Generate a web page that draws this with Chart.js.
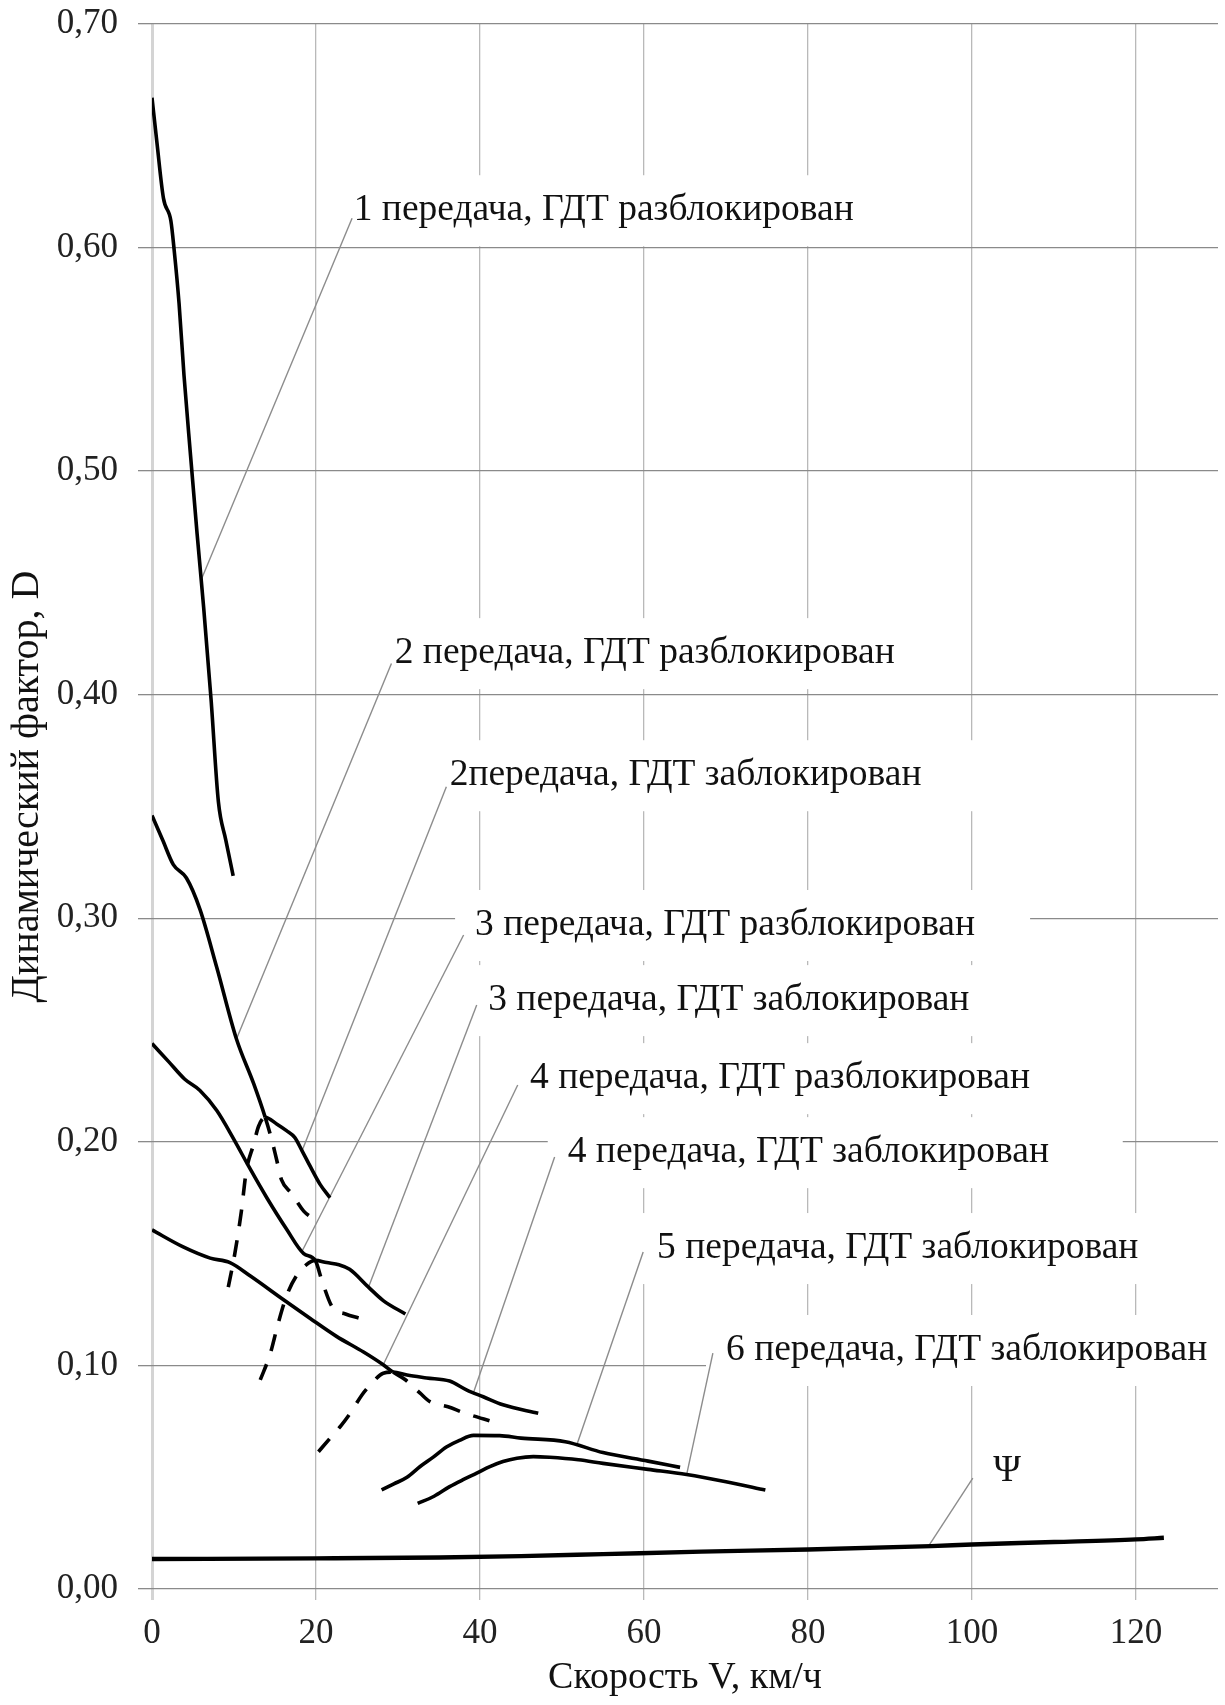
<!DOCTYPE html>
<html lang="ru">
<head>
<meta charset="utf-8">
<title>Динамическая характеристика</title>
<script src="https://cdn.jsdelivr.net/npm/chart.js@4.4.1/dist/chart.umd.min.js"></script>
<style>
  html, body { margin: 0; padding: 0; background: #fff; }
  canvas { display: block; }
</style>
</head>
<body>
<canvas id="chart" width="1225" height="1705"></canvas>
<script>
// скорость V, км/ч и динамический фактор D для каждой кривой
const v1 = [0, 0.6, 1.4, 2.3, 2.7, 3.3, 3.9, 4.7, 5.5, 6.3, 7.2, 8.1, 9.0, 9.9];
const d1 = [0.667, 0.647, 0.622, 0.612, 0.599, 0.575, 0.543, 0.507, 0.472, 0.439, 0.398, 0.352, 0.335, 0.319];

const v2u = [0, 1.3, 2.6, 4.2, 5.85, 7.9, 10.3, 12.4, 13.8, 14.6, 15.2, 15.8, 17.0, 18.5, 19.5];
const d2u = [0.346, 0.335, 0.324, 0.318, 0.304, 0.278, 0.246, 0.226, 0.211, 0.201, 0.192, 0.183, 0.177, 0.169, 0.166];
const v2l = [9.3, 10.1, 10.9, 11.5, 12.4, 13.0, 13.8, 15.2, 16.4, 17.4, 18.3, 19.3, 20.5, 21.7];
const d2l = [0.135, 0.150, 0.169, 0.187, 0.199, 0.207, 0.211, 0.208, 0.205, 0.202, 0.196, 0.189, 0.181, 0.175];

const v3u = [0, 2, 4, 5.85, 7.9, 10, 11.8, 14, 16.4, 18.5, 19.9, 20.8, 22.0, 23.6, 25.4];
const d3u = [0.244, 0.236, 0.228, 0.223, 0.214, 0.201, 0.189, 0.175, 0.161, 0.150, 0.147, 0.137, 0.126, 0.123, 0.121];
const v3l = [13.2, 14.4, 15.4, 16.4, 17.6, 18.8, 19.9, 21.3, 22.8, 24.1, 26.4, 28.2, 30.9];
const d3l = [0.0935, 0.105, 0.119, 0.131, 0.140, 0.145, 0.147, 0.146, 0.145, 0.143, 0.135, 0.129, 0.123];

const v4u = [0, 3.8, 7.1, 9.5, 12, 16, 19.3, 22.5, 25.8, 28.2, 29.4, 30.9, 32.7, 33.9, 36.1, 38.2, 41.6];
const d4u = [0.1606, 0.153, 0.148, 0.146, 0.140, 0.1295, 0.121, 0.113, 0.106, 0.1003, 0.097, 0.0936, 0.0876, 0.0838, 0.0815, 0.0786, 0.0748];
const v4l = [20.3, 21.7, 23.1, 24.3, 25.6, 26.8, 28.2, 29.4, 31.1, 33.5, 36.3, 38.4, 40.4, 42.8, 47.1];
const d4l = [0.0614, 0.0674, 0.0733, 0.0793, 0.0868, 0.092, 0.0965, 0.097, 0.0957, 0.0944, 0.093, 0.089, 0.086, 0.0824, 0.0786];

const v5 = [28, 29.5, 31.1, 32.7, 34.3, 35.9, 37.5, 39.2, 42.4, 45, 50.4, 55, 60.5, 64.4];
const d5 = [0.0443, 0.047, 0.050, 0.0548, 0.059, 0.0635, 0.0665, 0.0687, 0.0686, 0.0675, 0.0659, 0.061, 0.0572, 0.0544];

const v6 = [32.4, 34.4, 36.3, 38, 39.6, 41.2, 42.8, 44.5, 46.5, 48.5, 52, 55, 60.5, 65.2, 70, 74.8];
const d6 = [0.0383, 0.0415, 0.0458, 0.049, 0.0518, 0.0547, 0.057, 0.0585, 0.0592, 0.0589, 0.0578, 0.0562, 0.0535, 0.0512, 0.048, 0.0443];

const vPsi = [0, 20, 35, 45, 55, 67, 80, 95, 100, 110, 120, 123.4];
const dPsi = [0.0134, 0.0137, 0.0141, 0.0147, 0.0156, 0.0167, 0.0177, 0.0192, 0.0199, 0.021, 0.0222, 0.0229];

// скорость блокировки ГДТ на 2, 3 и 4 передачах
const lockSpeed = [13.8, 19.9, 29.4];

// подписи кривых: текст, точка привязки текста, начало выноски, точка на кривой
const labelTexts = [
  '1 передача, ГДТ разблокирован',
  '2 передача, ГДТ разблокирован',
  '2передача, ГДТ заблокирован',
  '3 передача, ГДТ разблокирован',
  '3 передача, ГДТ заблокирован',
  '4 передача, ГДТ разблокирован',
  '4 передача, ГДТ заблокирован',
  '5 передача, ГДТ заблокирован',
  '6 передача, ГДТ заблокирован',
  'Ψ'
];
const labelV = [24.6, 29.6, 36.3, 39.4, 41.0, 46.1, 50.7, 61.6, 70.0, 102.6];
const labelD = [0.6167, 0.4186, 0.364, 0.297, 0.2634, 0.2285, 0.1954, 0.1525, 0.1069, 0.0528];
const leaderV = [24.4, 29.2, 35.9, 38.0, 39.6, 44.6, 49.1, 59.9, 68.4, 100.1];
const leaderD = [0.6131, 0.414, 0.3588, 0.2925, 0.2612, 0.2254, 0.1932, 0.1507, 0.1055, 0.0496];
const leaderCurve = ['g1', 'g2u', 'g2l', 'g3u', 'g3l', 'g4u', 'g4l', 'g5', 'g6', 'psi'];
const leaderEndV = [6.0, 10.3, 18.3, 18.3, 26.4, 28.2, 39.2, 51.8, 65.2, 94.7];

const yTicks = [0, 0.1, 0.2, 0.3, 0.4, 0.5, 0.6, 0.7];

const DASH = [17, 14];
const serif = "'Liberation Serif', 'Times New Roman', serif";

function pts(xs, ys) {
  return xs.map((x, i) => ({ x: x, y: ys[i] }));
}

function atSpeed(xs, ys, v) {
  for (let i = 1; i < xs.length; i++) {
    if (v <= xs[i]) {
      const t = (v - xs[i - 1]) / (xs[i] - xs[i - 1]);
      return ys[i - 1] + t * (ys[i] - ys[i - 1]);
    }
  }
  return ys[ys.length - 1];
}

// штрих до (или после) момента блокировки
function dashSplit(split, before) {
  return ctx => {
    const mid = (ctx.p0.parsed.x + ctx.p1.parsed.x) / 2;
    return (before ? mid < split : mid > split) ? DASH : undefined;
  };
}

function curve(id, xs, ys, extra) {
  return Object.assign({
    id: id,
    data: pts(xs, ys),
    borderColor: '#000',
    borderWidth: 3.6,
    pointRadius: 0,
    cubicInterpolationMode: 'monotone',
    fill: false
  }, extra || {});
}

const curves = {
  g1: [v1, d1], g2u: [v2u, d2u], g2l: [v2l, d2l], g3u: [v3u, d3u], g3l: [v3l, d3l],
  g4u: [v4u, d4u], g4l: [v4l, d4l], g5: [v5, d5], g6: [v6, d6], psi: [vPsi, dPsi]
};

const datasets = [
  curve('g1', v1, d1),
  curve('g2u', v2u, d2u, { segment: { borderDash: dashSplit(lockSpeed[0], false) } }),
  curve('g2l', v2l, d2l, { segment: { borderDash: dashSplit(lockSpeed[0], true) } }),
  curve('g3u', v3u, d3u, { segment: { borderDash: dashSplit(lockSpeed[1], false) } }),
  curve('g3l', v3l, d3l, { segment: { borderDash: dashSplit(lockSpeed[1], true) } }),
  curve('g4u', v4u, d4u, { segment: { borderDash: dashSplit(lockSpeed[2], false) } }),
  curve('g4l', v4l, d4l, { segment: { borderDash: dashSplit(lockSpeed[2], true) } }),
  curve('g5', v5, d5),
  curve('g6', v6, d6),
  curve('psi', vPsi, dPsi, { borderWidth: 4.4 })
];

const callouts = {
  id: 'callouts',
  beforeDatasetsDraw(chart) {
    const { ctx, scales: { x, y } } = chart;
    ctx.save();

    // белая подложка под подписями
    ctx.fillStyle = '#fff';
    labelTexts.forEach((text, i) => {
      if (text.length < 3) return;
      const tx = x.getPixelForValue(labelV[i]);
      const ty = y.getPixelForValue(labelD[i]);
      ctx.fillRect(tx - 20, ty - 35, 575, 71);
    });

    // выноски
    ctx.strokeStyle = '#8c8c8c';
    ctx.lineWidth = 1.4;
    leaderCurve.forEach((key, i) => {
      const c = curves[key];
      const ev = leaderEndV[i];
      ctx.beginPath();
      ctx.moveTo(x.getPixelForValue(leaderV[i]), y.getPixelForValue(leaderD[i]));
      ctx.lineTo(x.getPixelForValue(ev), y.getPixelForValue(atSpeed(c[0], c[1], ev)));
      ctx.stroke();
    });

    // текст подписей
    ctx.fillStyle = '#111';
    ctx.font = '37.5px ' + serif;
    ctx.textAlign = 'left';
    ctx.textBaseline = 'middle';
    labelTexts.forEach((text, i) => {
      ctx.fillText(text, x.getPixelForValue(labelV[i]), y.getPixelForValue(labelD[i]));
    });
    ctx.restore();
  }
};

new Chart(document.getElementById('chart'), {
  type: 'line',
  data: { datasets: datasets },
  plugins: [callouts],
  options: {
    responsive: false,
    animation: false,
    devicePixelRatio: 1,
    layout: { padding: { left: 0, right: 7, top: 24, bottom: 0 } },
    plugins: {
      legend: { display: false },
      tooltip: { enabled: false }
    },
    scales: {
      x: {
        type: 'linear',
        min: 0,
        max: 130,
        border: { display: false },
        grid: {
          color: ctx => ctx.tick && ctx.tick.value === 0 ? '#d4d4d4' : '#b9b9b9',
          lineWidth: ctx => ctx.tick && ctx.tick.value === 0 ? 3 : 1.3,
          tickLength: 11
        },
        ticks: {
          stepSize: 20,
          includeBounds: false,
          padding: 13,
          color: '#222',
          font: { family: serif, size: 35 }
        },
        title: {
          display: true,
          text: 'Скорость V, км/ч',
          color: '#111',
          font: { family: serif, size: 38 },
          padding: { top: 0, bottom: 4 }
        },
        afterFit: scale => { scale.height = 116; }
      },
      y: {
        min: 0,
        max: 0.7,
        border: { display: false },
        grid: {
          color: '#8a8a8a',
          lineWidth: 1.3,
          tickLength: 14
        },
        afterBuildTicks: scale => { scale.ticks = yTicks.map(v => ({ value: v })); },
        ticks: {
          padding: 20,
          color: '#222',
          // однострочные подписи: малая высота строки не сдвигает верх области графика
          font: { family: serif, size: 35, lineHeight: 0.2 },
          callback: v => v.toFixed(2).replace('.', ',')
        },
        title: {
          display: true,
          text: '    Динамический фактор, D',
          color: '#111',
          font: { family: serif, size: 40 },
          padding: { top: 3, bottom: 0 }
        },
        afterFit: scale => { scale.width = 152; }
      }
    }
  }
});
</script>
</body>
</html>
